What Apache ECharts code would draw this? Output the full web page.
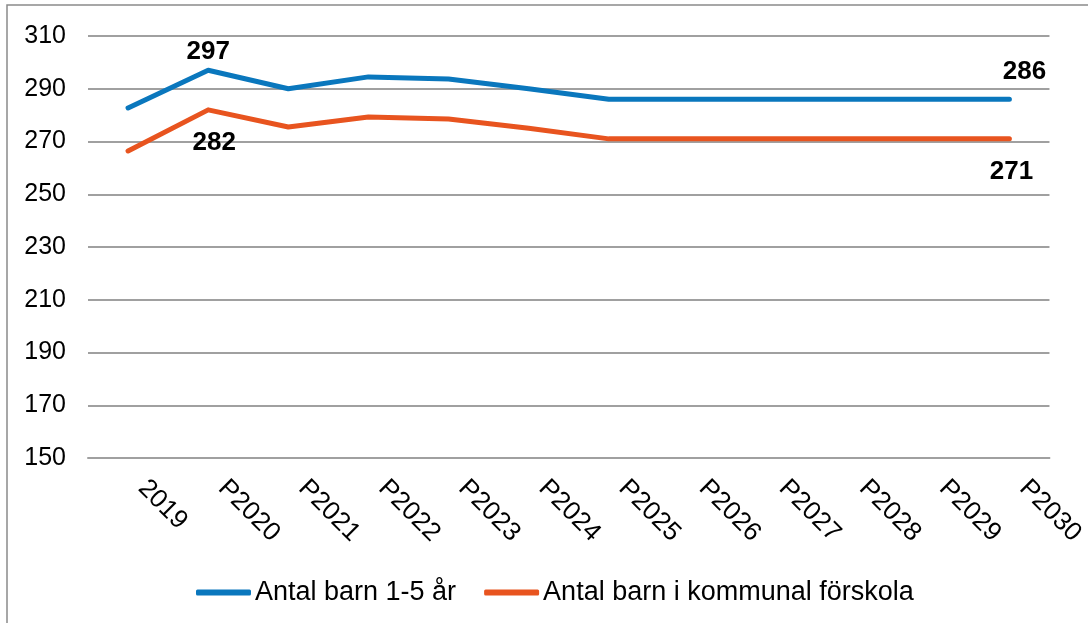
<!DOCTYPE html>
<html lang="sv">
<head>
    <meta charset="utf-8">
    <script src="https://cdn.jsdelivr.net/npm/echarts@6/dist/echarts.min.js"></script>
    <title>antal barn</title>
</head>
<body>
<style>
    html, body, #main {
        width: 100%;
        height: 100%;
        margin: 0;
        background: #fff;
    }
</style>
<div id='main'></div>
<script>
    var categories = ['2019', 'P2020', 'P2021', 'P2022', 'P2023', 'P2024', 'P2025', 'P2026', 'P2027', 'P2028', 'P2029', 'P2030'];
    var barn15 = [282.7, 297, 290, 294.5, 293.7, 290, 286, 286, 286, 286, 286, 286];
    var forskola = [266.4, 282, 275.5, 279.3, 278.5, 275, 271, 271, 271, 271, 271, 271];
    var seriesNames = ['Antal barn 1-5 år', 'Antal barn i kommunal förskola'];
    var yTicks = [150, 170, 190, 210, 230, 250, 270, 290, 310];

    var blue = '#0a77bd';
    var orange = '#e8541f';
    var font = 'Liberation Sans, Arial, sans-serif';

    // datalabels only on a few points
    var labelStyle = {show: true, fontFamily: font, fontSize: 26, fontWeight: 'bold', color: '#000'};
    function withLabels(vals, marks) {
        return vals.map(function (v, i) {
            if (marks[i]) {
                return {value: v, label: Object.assign({}, labelStyle, marks[i])};
            }
            return v;
        });
    }

    var chart = echarts.init(document.getElementById('main'));
    var option = {
        animation: false,
        graphic: [{
            type: 'rect',
            shape: {x: 7, y: 5, width: 1200, height: 800},
            style: {fill: 'none', stroke: '#8a8a8a', lineWidth: 1.5},
            silent: true
        }],
        grid: {left: 88, right: 38, top: 36, bottom: 165, containLabel: false},
        legend: {
            bottom: 12,
            left: 191,
            itemWidth: 55,
            itemHeight: 6,
            itemGap: 28,
            icon: 'roundRect',
            textStyle: {fontFamily: font, fontSize: 27, color: '#000', padding: [0, 0, 0, -1]},
            data: seriesNames
        },
        xAxis: {
            type: 'category',
            data: categories,
            boundaryGap: true,
            axisLine: {show: true, lineStyle: {color: '#a0a0a0', width: 2}},
            axisTick: {show: false},
            axisLabel: {
                rotate: -45,
                margin: 12,
                padding: [0, 0, 0, 20],
                interval: 0,
                fontFamily: font,
                fontSize: 26,
                color: '#000'
            }
        },
        yAxis: {
            type: 'value',
            min: yTicks[0],
            max: yTicks[yTicks.length - 1],
            interval: 20,
            axisLine: {show: false},
            axisTick: {show: false},
            axisLabel: {margin: 22, fontFamily: font, fontSize: 25, color: '#000'},
            splitLine: {lineStyle: {color: '#a0a0a0', width: 2}}
        },
        series: [{
            name: seriesNames[0],
            type: 'line',
            symbol: 'circle',
            symbolSize: 0,
            showSymbol: true,
            color: blue,
            lineStyle: {width: 5, cap: 'round', join: 'round'},
            label: {show: false},
            data: withLabels(barn15, {
                1: {position: 'top', distance: 5},
                11: {position: 'top', distance: 12, offset: [15, -2]}
            })
        }, {
            name: seriesNames[1],
            type: 'line',
            symbol: 'circle',
            symbolSize: 0,
            showSymbol: true,
            color: orange,
            lineStyle: {width: 5, cap: 'round', join: 'round'},
            label: {show: false},
            data: withLabels(forskola, {
                1: {position: 'bottom', distance: 20, offset: [6, 0]},
                11: {position: 'bottom', distance: 20, offset: [2, 0]}
            })
        }]
    };
    chart.setOption(option);
    window.onresize = chart.resize;
</script>
</body>
</html>
